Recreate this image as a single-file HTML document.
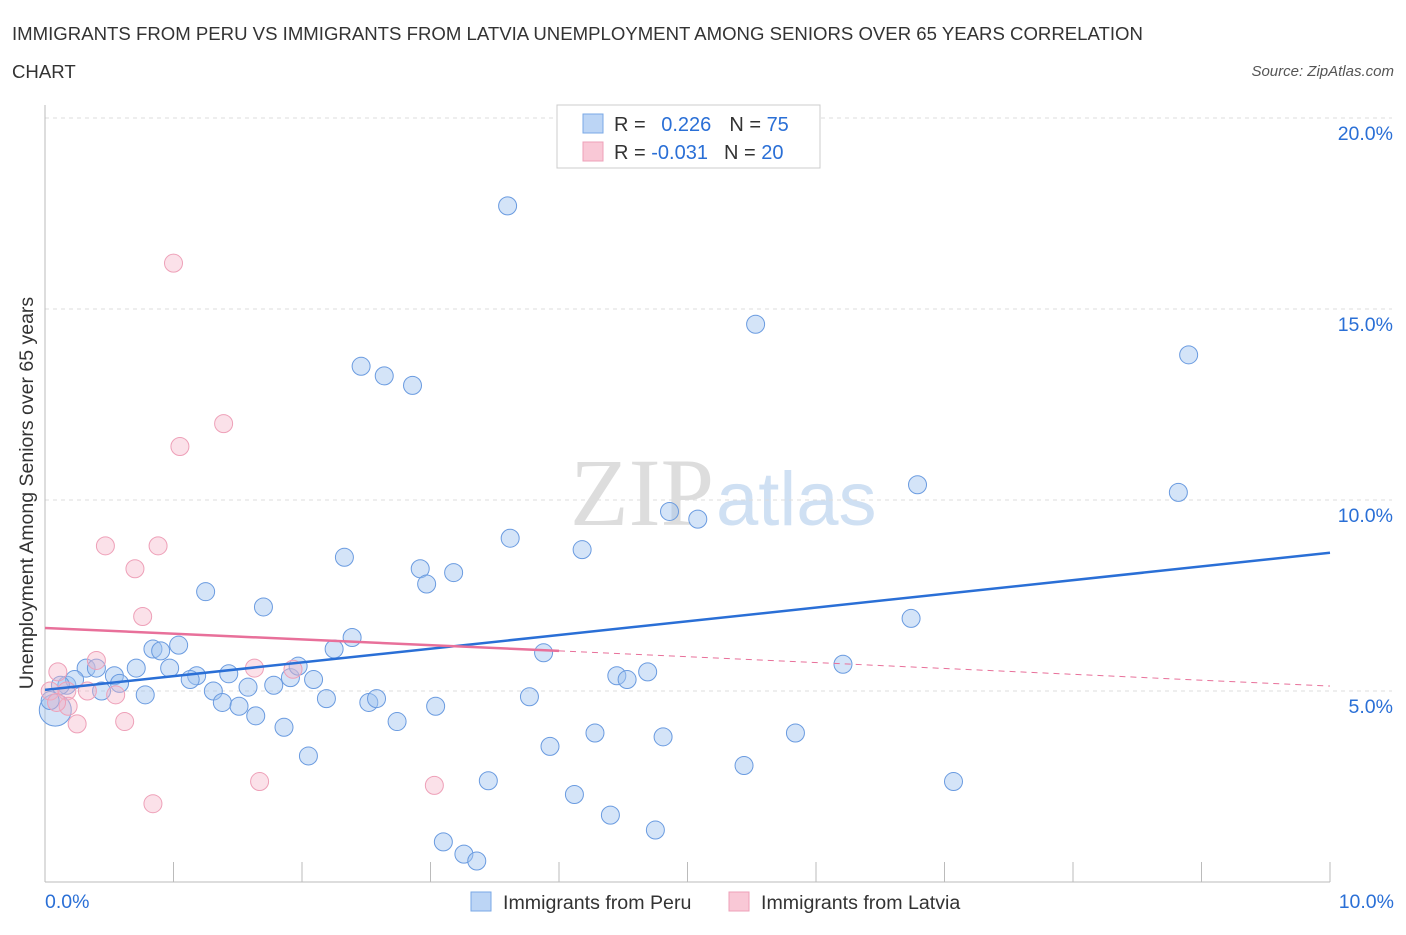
<!DOCTYPE html>
<html><head><meta charset="utf-8"><style>
body{margin:0;background:#fff;font-family:"Liberation Sans",sans-serif}
</style></head><body>
<svg width="1406" height="930" xmlns="http://www.w3.org/2000/svg">
<text x="12" y="40" font-size="18.6" fill="#333">IMMIGRANTS FROM PERU VS IMMIGRANTS FROM LATVIA UNEMPLOYMENT AMONG SENIORS OVER 65 YEARS CORRELATION</text>
<text x="12" y="78" font-size="18.6" fill="#333">CHART</text>
<text x="1394" y="76" font-size="15" fill="#555" font-style="italic" text-anchor="end">Source: ZipAtlas.com</text>
<text x="714" y="525" font-size="96" fill="#ddd" text-anchor="end" font-family="Liberation Serif">ZIP</text>
<text x="716" y="525" font-size="76" fill="#cfe0f3">atlas</text>
<g id="grid"></g>
<g id="axes"></g>
<g id="pts"></g>
<g id="lines"></g>
<text x="33" y="493" font-size="19.5" fill="#333" transform="rotate(-90 33 493)" text-anchor="middle">Unemployment Among Seniors over 65 years</text>
<g>
<rect x="557" y="105" width="263" height="63" fill="#fff" stroke="#ccc"/>
<rect x="583" y="114" width="20" height="19" fill="#bcd5f5" stroke="#7aa8e6"/>
<rect x="583" y="142" width="20" height="19" fill="#f9c8d6" stroke="#eea0b8"/>
<text x="614" y="131" font-size="20" fill="#333">R = <tspan fill="#2a6fd6" dx="10">0.226</tspan><tspan fill="#333" dx="18">N = </tspan><tspan fill="#2a6fd6">75</tspan></text>
<text x="614" y="159" font-size="20" fill="#333">R = <tspan fill="#2a6fd6">-0.031</tspan><tspan fill="#333" dx="16">N = </tspan><tspan fill="#2a6fd6">20</tspan></text>
</g>
<g>
<rect x="471" y="892" width="20" height="19" fill="#bcd5f5" stroke="#7aa8e6"/>
<text x="503" y="909" font-size="19.6" fill="#333">Immigrants from Peru</text>
<rect x="729" y="892" width="20" height="19" fill="#f9c8d6" stroke="#eea0b8"/>
<text x="761" y="909" font-size="19.6" fill="#333">Immigrants from Latvia</text>
</g>
</svg>
<script>
const yTicks=[5,10,15,20];
const yTickLabels=["5.0%","10.0%","15.0%","20.0%"];
const xTickLabels=["0.0%","10.0%"];
const peruX=[3.6,5.53,8.9,2.46,2.64,2.86,6.79,8.82,4.86,5.08,3.62,4.18,2.33,2.92,3.18,2.97,1.25,1.7,6.74,2.39,1.04,0.84,0.9,2.25,3.88,6.21,0.32,0.71,0.4,0.97,0.54,1.18,1.43,1.13,4.45,4.53,4.69,2.09,1.91,1.97,1.78,1.58,0.58,0.17,0.23,0.44,0.78,1.31,1.38,1.51,2.19,2.52,2.58,3.77,3.04,1.64,2.74,1.86,4.28,4.81,5.84,3.93,2.05,5.44,3.45,7.07,4.12,4.4,4.75,3.1,3.26,3.36,0.12,0.08,0.04];
const peruY=[17.7,14.6,13.8,13.5,13.25,13,10.4,10.2,9.7,9.5,9.0,8.7,8.5,8.2,8.1,7.8,7.6,7.2,6.9,6.4,6.2,6.1,6.05,6.1,6.0,5.7,5.6,5.6,5.6,5.6,5.4,5.4,5.45,5.3,5.4,5.3,5.5,5.3,5.35,5.65,5.15,5.1,5.2,5.15,5.3,5.0,4.9,5.0,4.7,4.6,4.8,4.7,4.8,4.85,4.6,4.35,4.2,4.05,3.9,3.8,3.9,3.55,3.3,3.05,2.65,2.63,2.29,1.75,1.36,1.05,0.73,0.55,5.15,4.5,4.75];
const latviaX=[1.0,1.39,1.05,0.47,0.88,0.7,0.76,0.4,0.1,0.04,0.17,0.33,0.55,0.18,0.09,0.25,0.62,1.63,1.93,1.67,0.84,3.03];
const latviaY=[16.2,12.0,11.4,8.8,8.8,8.2,6.95,5.8,5.5,5.0,5.0,5.0,4.9,4.6,4.7,4.14,4.2,5.6,5.57,2.63,2.05,2.53];
const X0=45,X1=1330,Y0=882,PY=38.2;
const sx=v=>X0+(X1-X0)*v/10, sy=v=>Y0-v*PY;
const NS="http://www.w3.org/2000/svg";
function mk(t,a,p){const e=document.createElementNS(NS,t);for(const k in a)e.setAttribute(k,a[k]);p.appendChild(e);return e;}
const grid=document.getElementById('grid'),axes=document.getElementById('axes'),pts=document.getElementById('pts'),lines=document.getElementById('lines');
yTicks.forEach((t,i)=>{
 const g=mk('line',{x1:X0,x2:1392,y1:sy(t),y2:sy(t),stroke:'#ddd','stroke-dasharray':'4,4'},grid);
 
 
 const l=mk('text',{x:1393,y:sy(t)+22,'font-size':19.5,fill:'#2a6fd6','text-anchor':'end'},axes);
 l.textContent=yTickLabels[i];
 
 
});
const ax=mk('line',{x1:X0,x2:X0,y1:105,y2:Y0,stroke:'#bbb'},axes);


const bx=mk('line',{x1:X0,x2:X1,y1:Y0,y2:Y0,stroke:'#bbb'},axes);


for(let i=1;i<=10;i++){const t=mk('line',{x1:sx(i),x2:sx(i),y1:Y0-20,y2:Y0,stroke:'#bbb'},axes);
 
 }
[[0,'start',45],[10,'end',1394]].forEach((d,i)=>{const l=mk('text',{x:d[2],y:908,'font-size':19.5,fill:'#2a6fd6','text-anchor':d[1]},axes);l.textContent=xTickLabels[i];
 
 });
peruX.forEach((x,i)=>{const r=i==73?16:9;const c=mk('circle',{cx:sx(x),cy:sy(peruY[i]),r:r,fill:'rgba(160,196,240,0.45)',stroke:'#6a9be0','stroke-width':1},pts);
 
 });
latviaX.forEach((x,i)=>{const c=mk('circle',{cx:sx(x),cy:sy(latviaY[i]),r:9,fill:'rgba(245,180,200,0.4)',stroke:'#eea0b8','stroke-width':1},pts);
 
 });
const bl=mk('line',{x1:sx(0),y1:sy(5.03),x2:sx(10),y2:sy(8.62),stroke:'#2a6fd6','stroke-width':2.5},lines);


const pl=mk('line',{x1:sx(0),y1:sy(6.65),x2:sx(4),y2:sy(6.05),stroke:'#e8709a','stroke-width':2.5},lines);


const pd=mk('line',{x1:sx(4),y1:sy(6.05),x2:sx(10),y2:sy(5.13),stroke:'#e8709a','stroke-width':1,'stroke-dasharray':'6,5'},lines);


</script>
</body></html>
